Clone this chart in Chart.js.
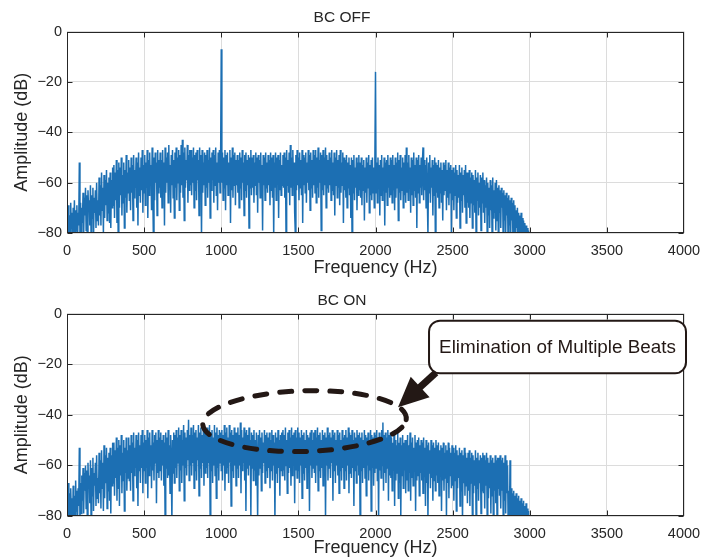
<!DOCTYPE html>
<html>
<head>
<meta charset="utf-8">
<script src="https://cdn.jsdelivr.net/npm/chart.js@4/dist/chart.umd.min.js"></script>
<style>
  html, body { margin: 0; padding: 0; background: #ffffff; }
  .wrap { position: relative; width: 702px; height: 280px; }
</style>
</head>
<body>
<div class="wrap"><canvas id="offChart" width="702" height="280"></canvas></div>
<div class="wrap"><canvas id="onChart" width="702" height="280"></canvas></div>
<script>
// ---- data ----
const binHz = 4; // spacing of the spectrum bins, Hz
const xTicks = [0, 500, 1000, 1500, 2000, 2500, 3000, 3500, 4000];
const yTicks = [-80, -60, -40, -20, 0];
const titles = ["BC OFF", "BC ON"];

// BC OFF spectrum, dB, one value per bin (each row = 100 Hz)
const offDb = [
  -71,-83,-69,-80,-73,-86,-68,-78,-72,-84,-70,-81,-67,-88,-71,-79,-69,-85,-72,-77,-52,-80,-68,-83,-70,
  -76,-64,-81,-66,-73,-62,-79,-65,-84,-63,-71,-67,-77,-61,-80,-65,-74,-62,-82,-66,-72,-63,-78,-60,-75,
  -67,-77,-58,-73,-61,-77,-56,-71,-62,-80,-57,-74,-59,-69,-55,-75,-60,-72,-58,-76,-56,-78,-59,-70,-54,
  -69,-53,-74,-56,-67,-51,-76,-55,-82,-52,-70,-54,-65,-50,-73,-57,-68,-52,-78,-55,-66,-49,-72,-56,-64,
  -51,-67,-54,-71,-50,-64,-53,-75,-49,-66,-55,-62,-50,-70,-52,-77,-48,-65,-54,-68,-50,-63,-47,-72,-53,
  -64,-49,-69,-52,-62,-47,-74,-51,-65,-48,-61,-53,-71,-46,-63,-82,-50,-67,-48,-60,-52,-73,-47,-64,-51,
  -62,-48,-66,-51,-70,-47,-61,-52,-77,-46,-64,-50,-60,-48,-68,-45,-63,-53,-72,-49,-61,-47,-66,-51,-74,
  -48,-62,-46,-67,-50,-60,-47,-71,-49,-64,-45,-61,-43,-66,-48,-75,-46,-62,-51,-59,-45,-68,-49,-63,-47,
  -61,-47,-65,-50,-60,-46,-70,-49,-63,-48,-67,-47,-59,-51,-73,-46,-62,-49,-82,-47,-64,-52,-61,-48,-69,
  -49,-62,-47,-66,-51,-60,-46,-74,-50,-63,-48,-59,-47,-68,-49,-61,-46,-65,-52,-71,-48,-60,-47,-64,-50,
  -7,-60,-48,-67,-50,-62,-47,-71,-49,-61,-48,-65,-52,-59,-47,-76,-50,-63,-46,-66,-49,-61,-48,-69,-51,
  -61,-49,-64,-51,-70,-48,-62,-50,-67,-47,-60,-52,-73,-49,-63,-48,-66,-51,-61,-49,-78,-50,-62,-47,-65,
  -50,-62,-49,-68,-52,-61,-48,-65,-50,-72,-49,-60,-51,-66,-48,-63,-53,-79,-49,-61,-50,-67,-48,-62,-52,
  -64,-49,-61,-51,-69,-48,-63,-50,-66,-49,-81,-52,-62,-48,-67,-50,-60,-49,-74,-51,-63,-48,-65,-53,-61,
  -49,-62,-48,-66,-50,-81,-47,-61,-51,-64,-48,-69,-45,-62,-50,-65,-47,-60,-52,-72,-80,-49,-63,-47,-61,
  -50,-67,-48,-62,-51,-65,-47,-76,-49,-61,-50,-64,-48,-68,-52,-60,-47,-63,-49,-71,-48,-62,-51,-66,-47,
  -61,-49,-64,-47,-68,-50,-62,-46,-66,-51,-60,-48,-79,-49,-63,-47,-65,-50,-61,-46,-70,-49,-62,-51,-64,
  -48,-61,-50,-67,-47,-63,-52,-65,-48,-73,-50,-61,-47,-66,-51,-62,-49,-69,-47,-64,-52,-61,-48,-76,-50,
  -63,-51,-66,-49,-70,-52,-62,-50,-65,-53,-74,-50,-82,-51,-64,-49,-67,-54,-62,-50,-71,-52,-65,-49,-63,
  -52,-66,-50,-69,-53,-63,-51,-75,-54,-64,-50,-68,-52,-62,-49,-72,-53,-65,-51,-67,-50,-64,-54,-70,-51,
  -16,-64,-52,-68,-50,-62,-53,-73,-51,-65,-49,-67,-54,-63,-50,-77,-52,-64,-51,-69,-49,-62,-53,-66,-50,
  -65,-51,-68,-49,-63,-53,-71,-50,-66,-52,-62,-48,-75,-51,-64,-49,-67,-54,-63,-50,-70,-52,-65,-49,-68,
  -46,-64,-52,-67,-49,-62,-54,-72,-50,-65,-51,-69,-48,-63,-53,-66,-50,-78,-51,-64,-49,-68,-53,-62,-50,
  -65,-52,-46,-67,-51,-63,-53,-70,-50,-66,-81,-52,-64,-49,-68,-54,-62,-51,-73,-53,-65,-50,-82,-52,-64,
  -53,-66,-51,-70,-54,-64,-52,-68,-55,-75,-52,-65,-53,-63,-51,-71,-55,-66,-52,-69,-54,-64,-53,-81,-55,
  -67,-54,-71,-56,-65,-53,-74,-55,-68,-57,-66,-53,-78,-56,-67,-54,-72,-57,-65,-55,-70,-53,-76,-56,-68,
  -56,-70,-55,-74,-58,-68,-56,-78,-57,-69,-59,-72,-55,-80,-58,-67,-56,-73,-60,-70,-57,-79,-58,-68,-56,
  -72,-59,-76,-61,-70,-58,-80,-60,-73,-62,-78,-59,-71,-61,-82,-58,-74,-63,-72,-60,-79,-59,-75,-62,-80,
  -61,-72,-63,-78,-62,-70,-64,-84,-63,-75,-65,-80,-64,-73,-66,-86,-65,-77,-67,-83,-66,-75,-68,-88,-67,
  -80,-69,-85,-71,-78,-70,-88,-72,-82,-73,-90,-72,-84,-74,-87,-75,-92,-76,-85,-77,-93,-78,-88,-79,-95,
  -80,-98
];

// BC ON spectrum, dB, one value per bin (each row = 100 Hz)
const onDb = [
  -75,-86,-67,-81,-71,-84,-69,-79,-73,-87,-68,-80,-72,-85,-66,-78,-70,-83,-69,-76,-53,-82,-67,-79,-64,
  -74,-61,-79,-63,-70,-60,-77,-62,-83,-59,-69,-64,-75,-58,-80,-61,-72,-57,-78,-63,-68,-59,-76,-56,-73,
  -65,-75,-55,-71,-58,-77,-54,-69,-59,-78,-52,-73,-56,-67,-53,-77,-57,-70,-55,-74,-53,-79,-56,-68,-51,
  -67,-51,-72,-54,-65,-49,-74,-53,-69,-50,-76,-52,-64,-48,-71,-55,-66,-50,-78,-53,-63,-49,-70,-54,-65,
  -49,-66,-52,-70,-48,-63,-51,-74,-47,-64,-53,-61,-48,-69,-50,-76,-47,-62,-52,-67,-48,-61,-46,-71,-51,
  -62,-48,-67,-50,-61,-46,-73,-49,-64,-47,-60,-52,-69,-46,-62,-51,-66,-48,-59,-47,-75,-50,-63,-46,-65,
  -49,-62,-47,-66,-50,-60,-48,-68,-51,-81,-47,-61,-49,-65,-46,-64,-52,-71,-48,-60,-82,-50,-63,-47,-67,
  -48,-61,-46,-65,-49,-59,-45,-70,-48,-62,-46,-67,-50,-60,-44,-74,-47,-61,-49,-64,-46,-58,-42,-66,-48,
  -60,-45,-64,-48,-59,-44,-69,-47,-62,-46,-66,-49,-58,-44,-72,-47,-61,-45,-65,-48,-59,-46,-68,-47,-63,
  -46,-61,-45,-65,-48,-59,-44,-81,-47,-62,-46,-67,-49,-60,-44,-64,-47,-73,-45,-61,-48,-66,-46,-59,-47,
  -62,-46,-66,-48,-60,-44,-70,-47,-63,-45,-61,-49,-67,-44,-59,-47,-76,-46,-62,-48,-65,-45,-60,-47,-68,
  -47,-61,-45,-65,-48,-60,-43,-71,-46,-62,-49,-59,-45,-66,-47,-78,-46,-61,-48,-64,-45,-60,-50,-80,-47,
  -61,-48,-66,-46,-62,-50,-68,-47,-60,-81,-48,-64,-46,-61,-49,-70,-47,-63,-51,-59,-46,-67,-48,-62,-47,
  -65,-49,-61,-47,-69,-50,-62,-46,-66,-48,-60,-51,-82,-47,-63,-49,-67,-46,-61,-50,-72,-48,-62,-47,-64,
  -46,-62,-48,-66,-45,-60,-50,-71,-47,-63,-46,-61,-49,-68,-45,-64,-48,-60,-47,-75,-46,-62,-49,-65,-45,
  -62,-47,-67,-49,-60,-46,-73,-48,-63,-47,-66,-50,-61,-46,-69,-48,-62,-49,-78,-47,-60,-46,-65,-50,-61,
  -47,-63,-46,-67,-49,-60,-45,-70,-48,-62,-47,-65,-50,-61,-46,-68,-48,-64,-47,-81,-49,-60,-45,-66,-48,
  -61,-47,-65,-49,-59,-46,-74,-48,-62,-47,-67,-50,-60,-46,-64,-48,-71,-47,-62,-50,-66,-46,-61,-49,-69,
  -48,-62,-46,-66,-49,-60,-45,-71,-47,-63,-48,-65,-46,-61,-50,-76,-47,-62,-49,-67,-46,-60,-48,-64,-47,
  -81,-49,-62,-47,-67,-50,-61,-46,-65,-48,-72,-49,-60,-47,-66,-50,-62,-46,-78,-48,-61,-49,-68,-47,-63,
  -48,-61,-46,-66,-49,-82,-47,-62,-50,-65,-46,-60,-43,-70,-48,-63,-47,-67,-49,-61,-46,-74,-48,-64,-47,
  -65,-49,-70,-51,-62,-48,-76,-50,-66,-52,-63,-47,-73,-51,-67,-49,-80,-52,-64,-48,-69,-51,-62,-50,-71,
  -50,-66,-48,-70,-52,-63,-47,-74,-51,-65,-49,-68,-53,-62,-48,-78,-51,-66,-50,-64,-49,-72,-52,-63,-50,
  -66,-51,-71,-49,-64,-53,-76,-50,-67,-52,-81,-51,-63,-54,-69,-50,-65,-52,-74,-51,-66,-53,-70,-50,-64,
  -52,-67,-51,-72,-54,-64,-52,-78,-53,-66,-51,-70,-55,-65,-52,-80,-54,-67,-51,-73,-53,-64,-55,-69,-52,
  -68,-53,-74,-55,-66,-52,-78,-54,-69,-56,-65,-53,-76,-55,-70,-54,-82,-56,-67,-53,-72,-55,-68,-57,-75,
  -55,-70,-54,-76,-57,-67,-55,-80,-56,-71,-58,-68,-54,-81,-57,-69,-55,-74,-58,-67,-56,-79,-57,-70,-55,
  -71,-56,-77,-58,-68,-55,-80,-57,-73,-59,-69,-56,-79,-58,-72,-57,-83,-59,-70,-56,-75,-58,-81,-57,-69,
  -57,-72,-56,-77,-58,-70,-57,-81,-59,-74,-56,-79,-58,-71,-60,-84,-70,-86,-58,-88,-69,-83,-71,-90,-70,
  -85,-72,-89,-71,-84,-73,-92,-72,-86,-74,-90,-73,-87,-75,-93,-74,-88,-76,-91,-75,-94,-77,-90,-78,-96,
  -82,-99
];

// annotation on BC ON panel (data units)
const noteText = "Elimination of Multiple Beats";
const ellipseHz = [1540, 660];   // centre, half width
const ellipseDb = [-42.5, 12];   // centre, half height
const arrowHz = [2392, 2146];    // tail, tip
const arrowDb = [-23.3, -37.0];
const noteBoxHz = [2347, 4013];
const noteBoxDb = [-2.8, -23.6];

// ---- drawing ----
const TXT = '#262626';
const INK = '#231815';
const FONT = "'Liberation Sans', Arial, sans-serif";

const boxPlugin = {
  id: 'matlabBox',
  afterDatasetsDraw(chart) {
    const { ctx, chartArea: a, scales: { x, y } } = chart;
    ctx.save();
    ctx.strokeStyle = TXT;
    ctx.lineWidth = 1;
    const L = Math.round(a.left) + 0.5, R = Math.round(a.right) - 0.5;
    const T = Math.round(a.top) + 0.5, B = Math.round(a.bottom) - 0.5;
    ctx.strokeRect(L, T, R - L, B - T);
    ctx.beginPath();
    xTicks.forEach(v => {
      const px = Math.min(R, Math.round(x.getPixelForValue(v)) + 0.5);
      ctx.moveTo(px, B); ctx.lineTo(px, B - 5);
      ctx.moveTo(px, T); ctx.lineTo(px, T + 5);
    });
    yTicks.forEach(v => {
      const py = Math.round(y.getPixelForValue(v)) + 0.5;
      ctx.moveTo(L, py); ctx.lineTo(L + 5, py);
      ctx.moveTo(R, py); ctx.lineTo(R - 5, py);
    });
    ctx.stroke();
    ctx.restore();
  }
};

const notePlugin = {
  id: 'beatNote',
  afterDraw(chart) {
    const { ctx, scales: { x, y } } = chart;
    ctx.save();
    // dashed ellipse
    const cx = x.getPixelForValue(ellipseHz[0]);
    const cy = y.getPixelForValue(ellipseDb[0]);
    const rx = x.getPixelForValue(ellipseHz[0] + ellipseHz[1]) - cx;
    const ry = cy - y.getPixelForValue(ellipseDb[0] + ellipseDb[1]);
    ctx.strokeStyle = INK;
    ctx.lineWidth = 5;
    ctx.lineCap = 'round';
    ctx.setLineDash([12, 13]);
    ctx.beginPath();
    ctx.ellipse(cx, cy, rx, ry, -0.03, 0.3, 0.3 + Math.PI * 2);
    ctx.stroke();
    ctx.setLineDash([]);
    // arrow
    const tx = x.getPixelForValue(arrowHz[0]), ty = y.getPixelForValue(arrowDb[0]);
    const hx = x.getPixelForValue(arrowHz[1]), hy = y.getPixelForValue(arrowDb[1]);
    const ang = Math.atan2(hy - ty, hx - tx);
    const headLen = 30, headHalf = 14;
    const bx = hx - headLen * Math.cos(ang), by = hy - headLen * Math.sin(ang);
    ctx.lineCap = 'butt';
    ctx.lineWidth = 7;
    ctx.strokeStyle = INK;
    ctx.beginPath();
    ctx.moveTo(tx, ty); ctx.lineTo(bx + 2 * Math.cos(ang), by + 2 * Math.sin(ang));
    ctx.stroke();
    ctx.fillStyle = INK;
    ctx.beginPath();
    ctx.moveTo(hx, hy);
    ctx.lineTo(bx + headHalf * Math.sin(ang), by - headHalf * Math.cos(ang));
    ctx.lineTo(bx - headHalf * Math.sin(ang), by + headHalf * Math.cos(ang));
    ctx.closePath();
    ctx.fill();
    // callout box
    const x1 = x.getPixelForValue(noteBoxHz[0]), x2 = x.getPixelForValue(noteBoxHz[1]);
    const y1 = y.getPixelForValue(noteBoxDb[0]), y2 = y.getPixelForValue(noteBoxDb[1]);
    ctx.beginPath();
    ctx.roundRect(x1, y1, x2 - x1, y2 - y1, 11);
    ctx.fillStyle = '#ffffff';
    ctx.fill();
    ctx.lineWidth = 2;
    ctx.strokeStyle = INK;
    ctx.stroke();
    let fs = 19;
    ctx.font = fs + "px " + FONT;
    const w = ctx.measureText(noteText).width;
    const target = (x2 - x1) - 20;
    if (w > target) { fs = fs * target / w; ctx.font = fs.toFixed(2) + "px " + FONT; }
    ctx.fillStyle = INK;
    ctx.textAlign = 'center';
    ctx.textBaseline = 'middle';
    ctx.fillText(noteText, (x1 + x2) / 2, (y1 + y2) / 2 + 1);
    ctx.restore();
  }
};

function makeChart(id, title, values, titlePad, xAxisH, extraPlugins) {
  const points = values.map((v, i) => ({ x: i * binHz, y: v }));
  return new Chart(document.getElementById(id), {
    type: 'line',
    data: {
      datasets: [{
        data: points,
        borderColor: '#1c6fb3',
        borderWidth: 1.5,
        pointRadius: 0,
        tension: 0,
        fill: false,
        clip: 0
      }]
    },
    options: {
      responsive: false,
      animation: false,
      events: [],
      layout: { padding: { left: 0, right: 18, top: 0, bottom: 0 } },
      plugins: {
        legend: { display: false },
        tooltip: { enabled: false },
        title: {
          display: true,
          text: title,
          color: TXT,
          font: { family: FONT, size: 15.5, weight: 'normal', lineHeight: 1.2 },
          padding: titlePad
        }
      },
      scales: {
        x: {
          type: 'linear',
          min: 0, max: 4000,
          afterBuildTicks: s => { s.ticks = xTicks.map(v => ({ value: v })); },
          afterFit: s => { s.height = xAxisH; s.paddingRight = 0; s.paddingLeft = 0; },
          grid: { color: '#dcdcdc', lineWidth: 1, drawTicks: false },
          border: { display: false },
          ticks: {
            color: TXT, font: { family: FONT, size: 14.5 }, padding: 9, maxRotation: 0, autoSkip: false,
            callback: v => String(v)
          },
          title: {
            display: true, text: 'Frequency (Hz)', color: TXT,
            font: { family: FONT, size: 18, lineHeight: 1.2 }, padding: { top: 0, bottom: 1 }
          }
        },
        y: {
          type: 'linear',
          min: -80, max: 0,
          afterBuildTicks: s => { s.ticks = yTicks.map(v => ({ value: v })); },
          afterFit: s => { s.width = 67; },
          grid: { color: '#dcdcdc', lineWidth: 1, drawTicks: false },
          border: { display: false },
          ticks: {
            color: TXT, font: { family: FONT, size: 14.5 }, padding: 5,
            callback: v => String(v).replace('-', '\u2212')
          },
          title: {
            display: true, text: 'Amplitude (dB)', color: TXT,
            font: { family: FONT, size: 18, lineHeight: 1.2 }, padding: { top: 11, bottom: 0 }
          }
        }
      }
    },
    plugins: [boxPlugin].concat(extraPlugins)
  });
}

makeChart('offChart', titles[0], offDb, { top: 8, bottom: 5 }, 47, []);
makeChart('onChart', titles[1], onDb, { top: 11, bottom: 4 }, 44, [notePlugin]);
</script>
</body>
</html>
